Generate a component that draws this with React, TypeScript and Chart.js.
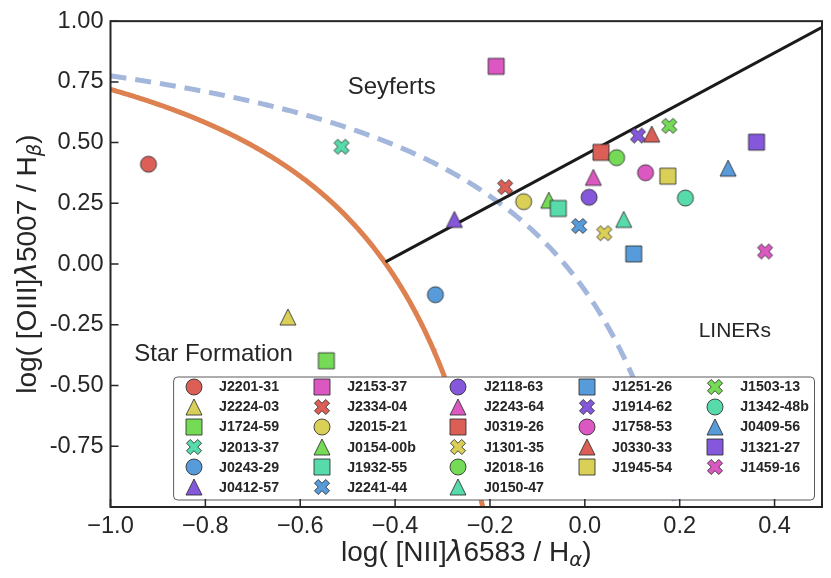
import React, { useEffect, useRef } from 'react';
import { Chart, registerables } from 'chart.js';

Chart.register(...registerables);

// ---------------- data ----------------
const galaxyNames = [
  'J2201-31', 'J2224-03', 'J1724-59', 'J2013-37', 'J0243-29', 'J0412-57',
  'J2153-37', 'J2334-04', 'J2015-21', 'J0154-00b', 'J1932-55', 'J2241-44',
  'J2118-63', 'J2243-64', 'J0319-26', 'J1301-35', 'J2018-16', 'J0150-47',
  'J1251-26', 'J1914-62', 'J1758-53', 'J0330-33', 'J1945-54',
  'J1503-13', 'J1342-48b', 'J0409-56', 'J1321-27', 'J1459-16',
];
// log([NII]6583 / Halpha)
const logNiiHa = [
  -0.920, -0.626, -0.545, -0.513, -0.315, -0.275,
  -0.187, -0.168, -0.129, -0.076, -0.056, -0.012,
  0.009, 0.018, 0.034, 0.041, 0.067, 0.082,
  0.103, 0.112, 0.128, 0.141, 0.175,
  0.178, 0.212, 0.302, 0.362, 0.380,
];
// log([OIII]5007 / Hbeta)
const logOiiiHb = [
  0.411, -0.218, -0.398, 0.483, -0.126, 0.184,
  0.814, 0.317, 0.257, 0.263, 0.229, 0.157,
  0.275, 0.357, 0.460, 0.127, 0.438, 0.184,
  0.042, 0.529, 0.376, 0.535, 0.362,
  0.569, 0.272, 0.395, 0.502, 0.052,
];

// demarcation curves: y = a / (x - b) + c
const kauffmannCoef = [0.61, 0.05, 1.3];
const kewleyCoef = [0.61, 0.47, 1.19];
// Seyfert / LINER line: y = m x + q
const seyLinerCoef = [1.05, 0.45];
const seyLinerX = [-0.42, 0.5];

const regionLabels = ['Seyferts', 'Star Formation', 'LINERs'];
const regionX = [-0.5, -0.95, 0.24];
const regionY = [0.7, -0.4, -0.3];

// ---------------- style ----------------
const paletteColors = ['#db5f57', '#dbd057', '#75db57', '#57dbaa', '#579bdb', '#8457db', '#db57c1'];
const markerShapes = ['circle', 'triangle', 'square', 'x'];
const FONT = '"Liberation Sans", Arial, Helvetica, sans-serif';
const TEXT = '#262626';
const regionFontPx = [24, 24, 21];

function makeMarker(shape: string, color: string, size: number): HTMLCanvasElement {
  const dim = Math.ceil(size + 4);
  const c = document.createElement('canvas');
  c.width = dim;
  c.height = dim;
  const ctx = c.getContext('2d')!;
  const cx = dim / 2, cy = dim / 2, h = size / 2;
  ctx.beginPath();
  if (shape === 'circle') {
    ctx.arc(cx, cy, h, 0, Math.PI * 2);
  } else if (shape === 'square') {
    ctx.rect(cx - h, cy - h, size, size);
  } else if (shape === 'triangle') {
    ctx.moveTo(cx, cy - h);
    ctx.lineTo(cx + h, cy + h);
    ctx.lineTo(cx - h, cy + h);
    ctx.closePath();
  } else {
    const pts = [[-1, -3], [1, -3], [1, -1], [3, -1], [3, 1], [1, 1], [1, 3], [-1, 3], [-1, 1], [-3, 1], [-3, -1], [-1, -1]];
    const k = Math.SQRT1_2;
    pts.forEach(([px, py], i) => {
      const sx = (px / 6) * size, sy = (py / 6) * size;
      const rx = (sx - sy) * k, ry = (sx + sy) * k;
      if (i === 0) ctx.moveTo(cx + rx, cy + ry);
      else ctx.lineTo(cx + rx, cy + ry);
    });
    ctx.closePath();
  }
  ctx.fillStyle = color;
  ctx.fill();
  ctx.lineWidth = 1;
  ctx.strokeStyle = 'rgba(45,45,45,0.85)';
  ctx.stroke();
  return c;
}

function curvePoints(coef: number[], x0: number, yStop: number) {
  const [a, b, c] = coef;
  const pts: { x: number; y: number }[] = [];
  for (let x = x0; x < b; x += 0.002) {
    const y = a / (x - b) + c;
    pts.push({ x, y });
    if (y < yStop) break;
  }
  return pts;
}

type Seg = { t: string; f: string; dy?: number };

function drawRich(ctx: CanvasRenderingContext2D, segs: Seg[], cx: number, baseY: number) {
  let total = 0;
  const widths = segs.map((s) => {
    ctx.font = s.f;
    const w = ctx.measureText(s.t).width;
    total += w;
    return w;
  });
  let x = cx - total / 2;
  ctx.textAlign = 'left';
  ctx.textBaseline = 'alphabetic';
  segs.forEach((s, i) => {
    ctx.font = s.f;
    ctx.fillText(s.t, x, baseY + (s.dy || 0));
    x += widths[i];
  });
}

export default function App() {
  const ref = useRef<HTMLCanvasElement | null>(null);

  useEffect(() => {
    if (!ref.current) return;
    const markerSize = 16;
    const images = galaxyNames.map((_, i) =>
      makeMarker(markerShapes[i % markerShapes.length], paletteColors[i % paletteColors.length], markerSize)
    );

    const pointSets: any[] = galaxyNames.map((name, i) => ({
      label: name,
      data: [{ x: logNiiHa[i], y: logOiiiHb[i] }],
      pointStyle: images[i],
      pointRadius: 8,
      order: 100 - i,
    }));

    const lineSets: any[] = [
      {
        label: 'Seyfert/LINER',
        data: seyLinerX.map((x) => ({ x, y: seyLinerCoef[0] * x + seyLinerCoef[1] })),
        showLine: true,
        borderColor: '#1a1a1a',
        borderWidth: 3,
        pointRadius: 0,
        order: 200,
      },
      {
        label: 'Kauffmann 2003',
        data: curvePoints(kauffmannCoef, -1.0, -1.2),
        showLine: true,
        borderColor: '#de8150',
        borderWidth: 5,
        pointRadius: 0,
        order: 201,
      },
      {
        label: 'Kewley 2001',
        data: curvePoints(kewleyCoef, -1.0, -1.2),
        showLine: true,
        borderColor: '#a3b6dc',
        borderWidth: 5,
        borderDash: [16, 9],
        pointRadius: 0,
        order: 202,
      },
    ];

    const decor = {
      id: 'decor',
      afterDraw(chart: any) {
        const { ctx, chartArea: ca, scales } = chart;
        const xs = scales.x, ys = scales.y;
        ctx.save();

        // region labels
        regionLabels.forEach((t, i) => {
          ctx.font = `${regionFontPx[i]}px ${FONT}`;
          ctx.fillStyle = TEXT;
          ctx.textAlign = 'left';
          ctx.textBaseline = 'alphabetic';
          ctx.fillText(t, xs.getPixelForValue(regionX[i]), ys.getPixelForValue(regionY[i]));
        });

        // legend (inside, lower right)
        const fs = 14.2;
        ctx.font = `bold ${fs}px ${FONT}`;
        const nCols = 5;
        const nRows = Math.ceil(galaxyNames.length / nCols);
        const nLarge = galaxyNames.length % nCols || nCols;
        const cols: number[][] = [];
        let idx = 0;
        for (let c = 0; c < nCols; c++) {
          const n = c < nLarge ? nRows : nRows - 1;
          cols.push(Array.from({ length: n }, (_, k) => idx + k));
          idx += n;
        }
        const handleLen = 2 * fs, handlePad = 0.8 * fs, colSp = 2 * fs, borderPad = 0.4 * fs;
        const colW = cols.map((c) => Math.max(...c.map((j) => ctx.measureText(galaxyNames[j]).width)));
        let width = 2 * borderPad;
        colW.forEach((w, i) => { width += handleLen + handlePad + w + (i < nCols - 1 ? colSp : 0); });
        const rowSp = 20.1;
        const height = 123;
        const bRight = ca.right - 7.5;
        const bBottom = ca.bottom - 7;
        const bLeft = bRight - width;
        const bTop = bBottom - height;
        ctx.beginPath();
        ctx.roundRect(bLeft, bTop, width, height, 4);
        ctx.fillStyle = '#ffffff';
        ctx.fill();
        ctx.lineWidth = 1;
        ctx.strokeStyle = '#5a5a5a';
        ctx.stroke();
        let cx = bLeft + borderPad;
        cols.forEach((c, ci) => {
          c.forEach((j, r) => {
            const cy = bTop + 9.8 + r * rowSp;
            const im = images[j];
            ctx.drawImage(im, Math.round(cx + handleLen / 2 - im.width / 2), Math.round(cy - im.height / 2));
            ctx.font = `bold ${fs}px ${FONT}`;
            ctx.fillStyle = TEXT;
            ctx.textAlign = 'left';
            ctx.textBaseline = 'middle';
            ctx.fillText(galaxyNames[j], cx + handleLen + handlePad, cy + 0.5);
          });
          cx += handleLen + handlePad + colW[ci] + colSp;
        });

        // frame
        ctx.strokeStyle = TEXT;
        ctx.lineWidth = 2;
        ctx.strokeRect(ca.left, ca.top, ca.right - ca.left, ca.bottom - ca.top);

        // inward ticks
        ctx.lineWidth = 1.5;
        ctx.beginPath();
        xs.ticks.forEach((t: any) => {
          const px = xs.getPixelForValue(t.value);
          ctx.moveTo(px, ca.bottom);
          ctx.lineTo(px, ca.bottom - 8);
        });
        ys.ticks.forEach((t: any) => {
          const py = ys.getPixelForValue(t.value);
          ctx.moveTo(ca.left, py);
          ctx.lineTo(ca.left + 8, py);
        });
        ctx.stroke();

        // axis titles
        const ts = 28;
        const reg = `${ts}px ${FONT}`;
        const mathIt = `italic ${ts}px "DejaVu Sans", ${FONT}`;
        const subIt = `italic ${ts * 0.7}px "DejaVu Sans", ${FONT}`;
        ctx.fillStyle = TEXT;
        drawRich(ctx, [
          { t: 'log( [NII]', f: reg },
          { t: 'λ', f: mathIt },
          { t: '6583 / H', f: reg },
          { t: 'α', f: subIt, dy: 4.5 },
          { t: ')', f: reg },
        ], (ca.left + ca.right) / 2, ca.bottom + 54);

        ctx.save();
        ctx.translate(36, (ca.top + ca.bottom) / 2);
        ctx.rotate(-Math.PI / 2);
        drawRich(ctx, [
          { t: 'log( [OIII]', f: reg },
          { t: 'λ', f: mathIt },
          { t: '5007 / H', f: reg },
          { t: 'β', f: subIt, dy: 4.5 },
          { t: ')', f: reg },
        ], 0, 0);
        ctx.restore();

        ctx.restore();
      },
    };

    const chart = new Chart(ref.current, {
      type: 'scatter',
      data: { datasets: [...pointSets, ...lineSets] },
      options: {
        animation: false,
        responsive: false,
        maintainAspectRatio: false,
        layout: { padding: { left: 0, right: 8, top: 17, bottom: 0 } },
        plugins: { legend: { display: false }, tooltip: { enabled: false } },
        scales: {
          x: {
            type: 'linear',
            min: -1,
            max: 0.5,
            grid: { display: false, drawTicks: false },
            border: { display: false },
            ticks: {
              stepSize: 0.2,
              includeBounds: false,
              padding: 5,
              color: TEXT,
              font: { family: FONT, size: 23.6 },
              callback: (v: any) => {
                const n = Number(v);
                const s = Math.abs(n).toFixed(1);
                return n < -1e-9 ? '\u2212' + s : s;
              },
            },
            afterFit: (s: any) => { s.height = 71; },
          },
          y: {
            type: 'linear',
            min: -1,
            max: 1,
            grid: { display: false, drawTicks: false },
            border: { display: false },
            ticks: {
              stepSize: 0.25,
              padding: 7,
              color: TEXT,
              font: { family: FONT, size: 23.6 },
              callback: (v: any) => {
                const n = Number(v);
                if (Math.abs(n + 1) < 1e-9) return '';
                return n.toFixed(2);
              },
            },
            afterFit: (s: any) => { s.width = 110.5; },
          },
        },
      },
      plugins: [decor],
    });
    return () => chart.destroy();
  }, []);

  return (
    <canvas
      ref={ref}
      width={831}
      height={578}
      style={{ position: 'absolute', left: 0, top: 0, display: 'block' }}
    />
  );
}
